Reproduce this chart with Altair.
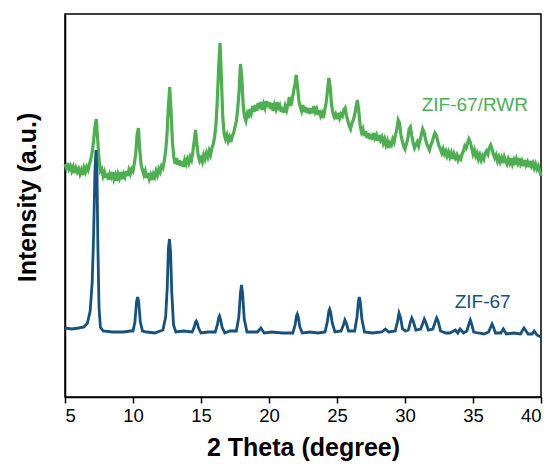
import altair as alt
import pandas as pd

# ZIF-67 (blue) pattern: 2-theta positions and intensities (a.u.)
BLUE_X = [5.0, 5.5, 6.0, 6.4, 6.65, 6.85, 7.0, 7.1, 7.2, 7.28, 7.35, 7.42, 7.5, 7.6, 7.8,
          8.5, 9.3, 9.8, 10.0, 10.14, 10.26, 10.34, 10.42, 10.54, 10.7, 11.0, 11.6,
          12.2, 12.4, 12.52, 12.6, 12.68, 12.76, 12.85, 12.98, 13.15, 13.7,
          14.35, 14.5, 14.6, 14.65, 14.72, 14.82, 15.0, 15.5,
          16.05, 16.2, 16.3, 16.36, 16.43, 16.55, 16.75, 17.1,
          17.6, 17.78, 17.9, 17.98, 18.06, 18.18, 18.38, 18.8,
          19.15, 19.4, 19.65, 20.2, 21.0,
          21.75, 21.92, 22.02, 22.08, 22.15, 22.27, 22.45, 23.0, 23.6,
          24.12, 24.3, 24.4, 24.46, 24.53, 24.65, 24.85,
          25.3, 25.47, 25.58, 25.68, 25.85,
          26.3, 26.47, 26.58, 26.64, 26.71, 26.83, 27.02, 27.6,
          28.3, 28.55, 28.8,
          29.28, 29.44, 29.56, 29.66, 29.82, 30.05,
          30.25, 30.4, 30.5, 30.6, 30.8,
          31.15, 31.32, 31.42, 31.52, 31.72,
          32.05, 32.22, 32.33, 32.43, 32.62, 33.0,
          33.3, 33.7, 33.88, 34.05, 34.3,
          34.55, 34.7, 34.8, 34.9, 35.05, 35.4, 35.8,
          36.15, 36.3, 36.4, 36.5, 36.65, 37.05, 37.23, 37.45, 38.0,
          38.5, 38.65, 38.75, 38.85, 39.05, 39.35, 39.5, 39.7, 40.0]
BLUE_Y = [69, 68, 69, 70, 74, 86, 115, 160, 225, 247, 225, 150, 90, 70, 66,
          65, 65, 66, 66, 75, 95, 100, 95, 75, 66, 65, 64,
          67, 80, 110, 148, 158, 145, 105, 72, 65, 66,
          65, 70, 75, 76, 74, 69, 64, 65,
          65, 72, 79, 81, 78, 70, 64, 66,
          66, 80, 104, 112, 103, 78, 65, 65,
          65, 69, 64, 65, 64,
          64, 72, 81, 83, 80, 70, 64, 65, 64,
          65, 76, 86, 88, 85, 74, 65,
          66, 72, 77, 74, 66,
          66, 80, 96, 100, 95, 78, 65, 64,
          65, 68, 65,
          66, 75, 84, 80, 68, 66,
          67, 75, 79, 76, 67,
          68, 74, 78, 75, 67,
          68, 75, 79, 76, 66, 64,
          64, 67, 64, 68, 64,
          66, 73, 77, 73, 65, 64, 63,
          65, 70, 73, 70, 64, 64, 68, 63, 64,
          63, 67, 69, 67, 63, 63, 66, 62, 60]

# ZIF-67/RWR (green) pattern, sampled every 0.1 degree from 5.0 to 40.0
GREEN_START = 5.0
GREEN_STEP = 0.1
GREEN_Y = [
    233, 229, 234, 228, 231, 226, 230, 224, 229, 225,   # 5.0
    228, 223, 227, 222, 229, 225, 230, 227, 233, 238,   # 6.0
    245, 256, 270, 278, 258, 238, 226, 228, 221, 225,   # 7.0
    219, 224, 217, 223, 220, 225, 218, 222, 216, 223,   # 8.0
    219, 225, 218, 223, 220, 226, 221, 227, 223, 228,   # 9.0
    226, 234, 243, 262, 269, 246, 232, 227, 222, 226,   # 10.0
    219, 224, 218, 222, 217, 223, 220, 226, 222, 228,   # 11.0
    225, 231, 229, 236, 246, 262, 290, 310, 285, 255,   # 12.0
    240, 233, 239, 232, 237, 231, 236, 230, 237, 233,   # 13.0
    238, 234, 240, 237, 245, 256, 267, 252, 241, 236,   # 14.0
    239, 235, 242, 238, 244, 240, 246, 242, 249, 253,   # 15.0
    260, 272, 297, 330, 354, 318, 280, 263, 258, 262,   # 16.0
    256, 260, 255, 261, 264, 270, 276, 288, 305, 333,   # 17.0
    320, 292, 280, 276, 283, 279, 288, 284, 291, 285,   # 18.0
    292, 286, 294, 288, 295, 287, 293, 289, 296, 290,   # 19.0
    295, 288, 294, 286, 292, 288, 295, 287, 291, 285,   # 20.0
    290, 284, 291, 287, 293, 300, 291, 297, 305, 312,   # 21.0
    322, 310, 296, 290, 286, 292, 285, 290, 284, 289,   # 22.0
    283, 289, 284, 291, 285, 288, 282, 287, 281, 284,   # 23.0
    279, 287, 294, 306, 319, 310, 292, 284, 280, 283,   # 24.0
    278, 284, 279, 283, 281, 287, 289, 281, 276, 271,   # 25.0
    268, 274, 277, 282, 290, 297, 286, 272, 265, 268,   # 26.0
    261, 266, 259, 264, 258, 263, 257, 264, 259, 262,   # 27.0
    256, 262, 257, 260, 254, 258, 252, 256, 249, 254,   # 28.0
    252, 258, 255, 262, 268, 277, 274, 262, 256, 251,   # 29.0
    248, 253, 258, 268, 270, 261, 254, 249, 252, 255,   # 30.0
    251, 257, 262, 268, 265, 258, 253, 250, 247, 252,   # 31.0
    255, 260, 264, 262, 256, 251, 248, 244, 248, 243,   # 32.0
    246, 241, 245, 240, 244, 238, 243, 239, 242, 237,   # 33.0
    240, 238, 243, 246, 251, 249, 254, 258, 255, 249,   # 34.0
    243, 247, 241, 244, 238, 242, 237, 241, 238, 244,   # 35.0
    246, 243, 249, 252, 248, 243, 239, 242, 236, 240,   # 36.0
    235, 239, 234, 240, 236, 233, 238, 234, 239, 233,   # 37.0
    237, 232, 238, 234, 239, 233, 236, 231, 237, 232,   # 38.0
    235, 230, 236, 231, 234, 229, 233, 228, 231, 226,   # 39.0
    221,                                                # 40.0
]

X_TICKS = [5, 7.5, 10, 12.5, 15, 17.5, 20, 22.5, 25, 27.5, 30, 32.5, 35, 37.5, 40]
Y_DOMAIN = [0, 383]

LABELS = ["ZIF-67/RWR", "ZIF-67"]
LABEL_X = [39.04, 37.77]
LABEL_Y = [292, 95]
GREEN = "#4caf50"
BLUE = "#15527f"
LABEL_COLORS = [GREEN, BLUE]

green_df = pd.DataFrame({
    "x": [round(GREEN_START + i * GREEN_STEP, 2) for i in range(len(GREEN_Y))],
    "y": GREEN_Y,
})
blue_df = pd.DataFrame({"x": BLUE_X, "y": BLUE_Y})
label_df = pd.DataFrame({"x": LABEL_X, "y": LABEL_Y, "t": LABELS, "c": LABEL_COLORS})

FONT = "Liberation Sans"

x_scale = alt.Scale(domain=[5, 40], nice=False, zero=False)
y_scale = alt.Scale(domain=Y_DOMAIN, nice=False, zero=False)

x_axis = alt.Axis(
    title="2 Theta (degree)",
    values=X_TICKS,
    labelExpr="datum.value % 5 == 0 ? datum.label : ''",
    grid=False,
    tickSize=6,
    tickWidth=1.5,
    tickColor="#000",
    domainColor="#000",
    domainWidth=1.5,
    labelFont=FONT,
    labelFontSize=18.5,
    labelColor="#000",
    labelPadding=3,
    labelOverlap=False,
    titleFont=FONT,
    titleFontSize=25,
    titleFontWeight="bold",
    titleColor="#000",
    titlePadding=11,
)
y_axis = alt.Axis(
    title="Intensity (a.u.)",
    labels=False,
    ticks=False,
    grid=False,
    domainColor="#000",
    domainWidth=1.5,
    titleFont=FONT,
    titleFontSize=25,
    titleFontWeight="bold",
    titleColor="#000",
    titlePadding=25,
    titleY=183,
)

green_line = alt.Chart(green_df).mark_line(color=GREEN, strokeWidth=3.2).encode(
    x=alt.X("x:Q", scale=x_scale, axis=x_axis),
    y=alt.Y("y:Q", scale=y_scale, axis=y_axis),
)
blue_line = alt.Chart(blue_df).mark_line(color=BLUE, strokeWidth=2.8).encode(
    x=alt.X("x:Q", scale=x_scale),
    y=alt.Y("y:Q", scale=y_scale),
)
labels = alt.Chart(label_df).mark_text(align="right", baseline="middle", font=FONT, fontSize=19).encode(
    x=alt.X("x:Q", scale=x_scale),
    y=alt.Y("y:Q", scale=y_scale),
    text="t:N",
    color=alt.Color("c:N", scale=None),
)

chart = alt.layer(green_line, blue_line, labels).properties(
    width=476,
    height=383,
    autosize=alt.AutoSizeParams(type="none"),
    padding={"left": 57, "top": 6, "right": 8, "bottom": 69},
    background="white",
).configure_view(stroke="#000", strokeWidth=1.5)

chart.save("out.html", embed_options={"renderer": "svg", "actions": False})
